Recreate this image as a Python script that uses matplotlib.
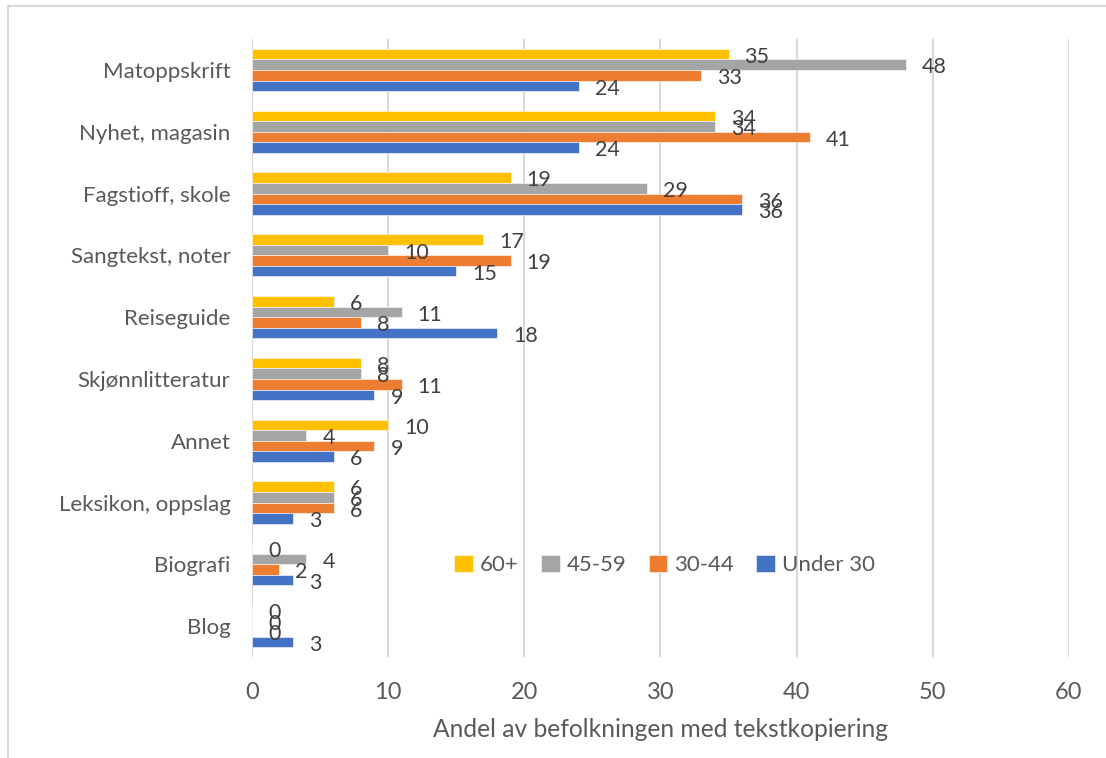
import matplotlib.pyplot as plt
import numpy as np
from matplotlib.lines import Line2D

plt.rcParams['font.family'] = ['Lato', 'DejaVu Sans']

categories = ['Matoppskrift', 'Nyhet, magasin', 'Fagstioff, skole', 'Sangtekst, noter',
              'Reiseguide', 'Skjønnlitteratur', 'Annet', 'Leksikon, oppslag', 'Biografi', 'Blog']
series_names = ['60+', '45-59', '30-44', 'Under 30']
age_60_plus = [35, 34, 19, 17, 6, 8, 10, 6, 0, 0]
age_45_59 = [48, 34, 29, 10, 11, 8, 4, 6, 4, 0]
age_30_44 = [33, 41, 36, 19, 8, 11, 9, 6, 2, 0]
under_30 = [24, 24, 36, 15, 18, 9, 6, 3, 3, 3]
colors = ['#FFC000', '#A5A5A5', '#ED7D31', '#4472C4']

fig = plt.figure(figsize=(11.06, 7.58), dpi=100)
ax = fig.add_axes([0.2278, 0.1332, 0.7387, 0.8153])

y = np.arange(len(categories))
h = 0.171
offsets = [-1.5 * h, -0.5 * h, 0.5 * h, 1.5 * h]
handles = []
for vals, name, col, off in zip([age_60_plus, age_45_59, age_30_44, under_30],
                                series_names, colors, offsets):
    bars = ax.barh(y + off, vals, height=h, color=col, edgecolor='white',
                   linewidth=0.4, label=name, zorder=3)
    handles.append(bars)
    for yy, v in zip(y + off, vals):
        ax.annotate(str(v), (v, yy), xytext=(11.5, -2), textcoords='offset points',
                    ha='left', va='center', fontsize=15.5, color='#404040', zorder=4)

ax.set_xlim(0, 60)
ax.set_ylim(len(categories) - 0.5, -0.5)
ax.set_xticks(np.arange(0, 61, 10))
ax.set_yticks(y)
ax.set_yticklabels(categories)
ax.tick_params(axis='both', length=0, labelsize=16, colors='#595959')
ax.tick_params(axis='x', labelsize=17, pad=18)
ax.tick_params(axis='y', pad=15.5)
ax.grid(axis='x', color='#d9d9d9', linewidth=1.5, zorder=0)
for s in ax.spines.values():
    s.set_visible(False)
ax.set_xlabel('Andel av befolkningen med tekstkopiering', fontsize=17.7,
              color='#595959', labelpad=11)

ax.legend(handles=handles, loc='center', bbox_to_anchor=(0.505, 0.149), ncol=4,
          frameon=False, fontsize=16, labelcolor='#595959', handlelength=0.85,
          handleheight=0.85, handletextpad=0.3, columnspacing=1.0)

# outer chart frame (only left and top visible in the crop)
fig.add_artist(Line2D([8 / 1106, 8 / 1106], [0, 1 - 6 / 758], color='#d9d9d9',
                      linewidth=1.5, transform=fig.transFigure))
fig.add_artist(Line2D([8 / 1106, 1], [1 - 6 / 758, 1 - 6 / 758], color='#d9d9d9',
                      linewidth=1.5, transform=fig.transFigure))

fig.savefig('out.png', dpi=100)
